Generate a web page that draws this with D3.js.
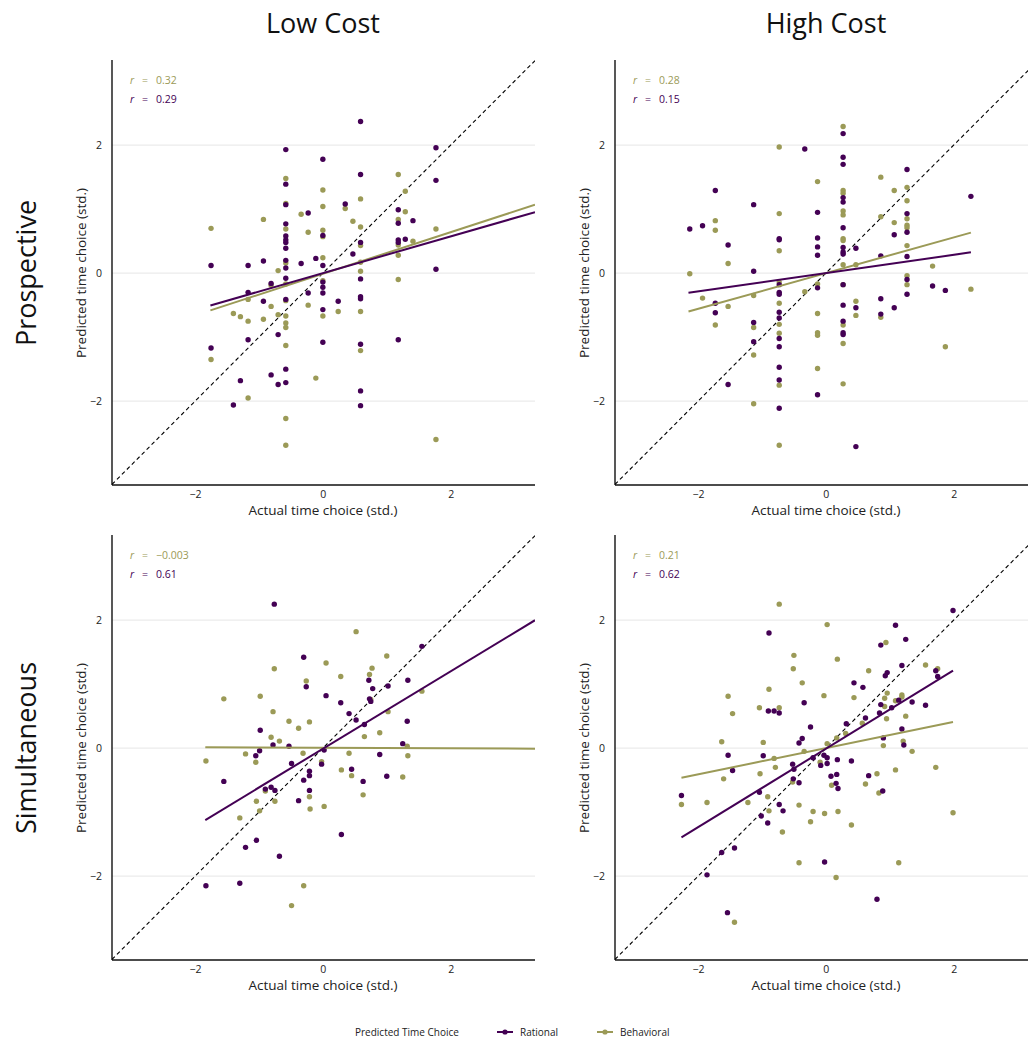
<!DOCTYPE html>
<html><head><meta charset="utf-8">
<script src="https://cdn.jsdelivr.net/npm/d3@7"></script>
<style>body{margin:0;background:#fff}svg{display:block;font-family:"Open Sans",sans-serif}</style>
</head><body><svg id="c" width="1028" height="1038"></svg>
<script>
// ---------- data ----------
const colLabels = ["Low Cost", "High Cost"];
const rowLabels = ["Prospective", "Simultaneous"];
const seriesNames = ["Rational", "Behavioral"];
const ticks = [-2, 0, 2];

const tlRational = [[0.59,2.37],[-0.58,1.93],[1.77,1.96],[0,1.78],[0.59,1.54],[-0.58,1.39],[1.77,1.45],[-0.58,1.07],[0.35,1.08],[-0.23,0.94],[1.18,0.99],[1.41,0.82],[1.18,0.78],[-0.58,0.77],[-0.58,0.58],[-0.58,0.52],[-0.58,0.48],[-0.58,0.39],[0,0.59],[1.29,0.53],[1.18,0.52],[1.18,0.48],[0.59,0.48],[0.47,0.30],[-0.11,0.23],[-0.58,0.20],[-0.58,0.08],[-0.34,0.15],[0,0.12],[-1.75,0.12],[-1.17,0.12],[-0.93,0.19],[1.77,0.06],[-0.58,-0.08],[0.59,-0.09],[0,-0.14],[-0.81,-0.16],[-1.17,-0.30],[0,-0.22],[0,-0.31],[-0.58,-0.41],[-0.23,-0.31],[-0.93,-0.44],[0.24,-0.44],[0.59,-0.37],[0.59,-0.40],[0,-0.57],[-0.70,-0.96],[-1.17,-1.04],[0,-1.08],[0.59,-1.11],[1.18,-1.04],[-1.75,-1.17],[-0.58,-1.50],[-1.29,-1.68],[-0.81,-1.59],[-0.70,-1.74],[-0.58,-1.71],[0.59,-1.84],[-1.40,-2.06],[0.59,-2.07]];
const tlBehavioral = [[-0.58,1.48],[-0.58,1.09],[1.18,1.54],[0,1.30],[0,1.04],[0.59,1.16],[0.35,1.01],[1.29,1.28],[1.29,0.96],[-1.75,0.70],[-0.93,0.84],[-0.34,0.92],[-0.58,0.69],[-0.23,0.64],[0,0.67],[0,0.57],[0.47,0.81],[0.59,0.72],[1.18,0.84],[1.77,0.69],[1.41,0.50],[1.18,0.44],[1.18,0.28],[0.59,0.43],[0.59,0.17],[0.59,0.03],[0,0.24],[-0.58,0.16],[-0.70,0.04],[1.18,-0.10],[-1.17,-0.41],[-0.81,-0.19],[-0.58,-0.17],[-0.58,-0.43],[0,-0.12],[-1.40,-0.63],[-1.29,-0.68],[-1.17,-0.75],[-0.93,-0.72],[-0.81,-0.52],[-0.70,-0.65],[-0.58,-0.67],[-0.58,-0.78],[-0.58,-0.85],[-0.23,-0.50],[0,-0.67],[0.24,-0.60],[0.59,-0.60],[-1.75,-1.35],[-0.58,-1.13],[0.59,-1.21],[-0.11,-1.64],[-1.17,-1.95],[-0.58,-2.27],[-0.58,-2.69],[1.77,-2.60]];

const trRational = [[0.27,2.18],[-0.33,1.94],[0.27,1.81],[0.27,1.70],[1.27,1.62],[-1.73,1.29],[2.27,1.20],[-1.13,1.07],[0.27,1.18],[0.27,1.11],[-0.13,0.95],[1.27,0.93],[-2.13,0.69],[-1.93,0.74],[0.27,0.71],[1.27,0.64],[1.07,0.60],[-1.53,0.44],[-0.73,0.54],[-0.73,0.52],[-0.13,0.55],[-0.13,0.41],[-0.13,0.28],[0.27,0.40],[0.27,0.33],[0.27,0.30],[0.47,0.39],[0.86,0.27],[1.27,0.26],[-1.13,0.03],[1.27,-0.10],[0.27,-0.18],[-0.73,-0.18],[1.67,-0.20],[-0.73,-0.30],[-0.73,-0.33],[-1.73,-0.47],[-1.73,-0.62],[-0.73,-0.61],[-0.73,-0.70],[-1.13,-0.77],[-1.13,-1.07],[-0.73,-1.02],[-0.73,-1.15],[-0.73,-1.47],[-0.73,-1.67],[-1.53,-1.74],[-0.13,-1.90],[-0.73,-2.11],[0.47,-2.71],[-0.13,-0.23],[0.27,-0.50],[0.27,-0.75],[0.27,-0.93],[0.27,-0.96],[0.47,-0.54],[0.86,-0.40],[0.86,-0.64],[1.07,-0.54],[1.27,-0.33],[1.87,-0.27]];
const trBehavioral = [[0.27,2.29],[-0.73,1.97],[-0.13,1.43],[0.86,1.50],[0.27,1.29],[0.27,1.25],[1.27,1.34],[1.07,1.29],[1.27,1.13],[0.27,0.97],[0.27,0.91],[-0.73,0.93],[-1.73,0.82],[-1.73,0.67],[0.86,0.88],[1.07,0.79],[1.27,0.85],[1.27,0.75],[1.27,0.71],[0.27,0.54],[0.27,0.51],[-0.73,0.35],[-1.53,0.15],[1.27,0.43],[0.27,0.13],[0.47,0.13],[1.67,0.11],[-2.13,-0.01],[1.27,-0.04],[-0.13,-0.17],[-0.73,-0.14],[-1.93,-0.39],[-1.53,-0.52],[-1.73,-0.81],[-1.13,-0.35],[-1.13,-0.85],[-1.13,-1.28],[-1.13,-2.04],[-0.73,-0.47],[-0.73,-0.80],[-0.73,-0.94],[-0.73,-1.75],[-0.73,-2.69],[-0.33,-0.29],[-0.13,-0.63],[-0.13,-0.93],[-0.13,-0.97],[-0.13,-1.49],[0.27,-0.18],[0.27,-0.81],[0.27,-1.10],[0.27,-1.73],[0.47,-0.44],[0.47,-0.66],[0.86,-0.69],[1.27,-0.18],[1.87,-1.15],[2.27,-0.25]];

const blRational = [[-0.76,2.25],[-0.30,1.42],[-0.26,0.96],[0.05,0.82],[0.28,0.71],[0.72,1.06],[0.78,0.93],[1.02,0.97],[1.33,1.06],[1.55,1.59],[0.73,0.77],[0.75,0.73],[0.41,0.54],[0.52,0.44],[0.65,0.37],[1.32,0.42],[-0.98,0.28],[-0.78,0.05],[-0.99,-0.04],[-1.05,-0.12],[-0.53,0.03],[0.02,-0.03],[1.25,0.07],[0.89,-0.10],[-0.49,-0.24],[-0.02,-0.25],[-0.21,-0.36],[-0.21,-0.43],[-0.30,-0.50],[0.45,-0.33],[0.63,-0.52],[1.00,-0.44],[-1.55,-0.52],[-0.90,-0.64],[-0.81,-0.61],[-0.75,-0.66],[-0.21,-0.66],[-0.38,-0.82],[0.29,-1.35],[-1.04,-1.44],[-1.21,-1.55],[-0.68,-1.69],[-1.83,-2.15],[-1.30,-2.11]];
const blBehavioral = [[0.52,1.82],[1.00,1.44],[0.05,1.33],[-0.76,1.24],[0.77,1.25],[0.73,1.15],[0.28,1.12],[-0.26,1.05],[-1.55,0.77],[-0.98,0.81],[1.55,0.89],[0.75,0.76],[-0.78,0.57],[1.02,0.57],[-0.53,0.42],[-0.38,0.31],[-0.21,0.41],[-0.81,0.17],[-0.68,0.11],[0.65,0.18],[0.89,0.24],[-1.21,-0.09],[-0.31,-0.08],[0.41,-0.08],[1.32,0.03],[1.33,-0.12],[-1.83,-0.20],[-1.05,-0.22],[-0.02,-0.21],[0.29,-0.34],[0.45,-0.43],[1.25,-0.45],[0.63,-0.73],[-0.90,-0.67],[-0.21,-0.76],[-1.04,-0.83],[-0.75,-0.83],[-0.99,-0.98],[-0.20,-0.95],[0.02,-0.91],[-1.30,-1.09],[-0.30,-2.15],[-0.49,-2.46]];

const brRational = [[1.99,2.15],[1.09,1.92],[-0.89,1.80],[1.25,1.70],[0.86,1.61],[1.19,1.29],[1.72,1.21],[1.75,1.12],[0.96,1.18],[0.93,1.13],[0.44,1.02],[0.58,0.95],[-0.34,0.71],[-0.90,0.58],[-0.81,0.58],[-0.73,0.55],[1.14,0.75],[1.35,0.72],[1.56,0.67],[0.86,0.68],[1.03,0.63],[0.84,0.55],[0.62,0.47],[-0.24,0.33],[0.32,0.38],[1.19,0.30],[0.90,0.16],[1.22,0.05],[-0.37,0.15],[-0.42,0.08],[-0.20,-0.15],[-0.03,-0.11],[0.02,-0.15],[0.18,-0.18],[0.40,-0.20],[-1.53,-0.11],[-0.98,-0.12],[-0.52,-0.25],[-0.08,-0.27],[0.02,-0.24],[-1.46,-0.35],[-0.50,-0.33],[-0.51,-0.48],[-0.42,-0.54],[0.08,-0.44],[0.17,-0.41],[0.16,-0.55],[0.19,-0.63],[0.67,-0.43],[0.89,-0.67],[-2.26,-0.74],[-1.04,-0.69],[-0.73,-0.88],[-0.67,-0.98],[-1.01,-1.06],[-0.91,-1.17],[-1.63,-1.63],[-1.43,-1.56],[-1.86,-1.98],[-0.02,-1.78],[0.80,-2.36],[-1.54,-2.57]];
const brBehavioral = [[-0.73,2.25],[0.02,1.93],[0.94,1.65],[-0.50,1.45],[0.18,1.39],[-0.51,1.24],[1.56,1.30],[1.75,1.24],[0.67,1.21],[-0.37,1.02],[-0.89,0.92],[-1.53,0.81],[-0.03,0.82],[0.44,0.79],[0.96,0.86],[1.19,0.83],[1.19,0.80],[1.09,0.74],[0.92,0.78],[-1.46,0.54],[-1.04,0.63],[-0.73,0.63],[0.92,0.65],[1.25,0.50],[0.95,0.46],[0.57,0.39],[0.31,0.23],[0.17,0.16],[0.02,0.07],[-1.63,0.10],[-0.98,0.09],[1.21,0.11],[0.90,0.04],[1.35,-0.05],[-0.34,-0.05],[-0.81,-0.16],[-0.09,-0.22],[-0.79,-0.30],[-1.03,-0.40],[-1.60,-0.48],[-0.52,-0.53],[0.09,-0.58],[0.62,-0.56],[0.80,-0.40],[1.09,-0.34],[1.72,-0.30],[0.83,-0.70],[-2.26,-0.88],[-1.86,-0.85],[-1.22,-0.85],[-0.91,-0.76],[-0.89,-0.98],[-0.42,-0.89],[-0.20,-0.99],[-0.02,-1.02],[0.19,-0.99],[-0.24,-1.15],[0.40,-1.20],[-0.68,-1.31],[1.99,-1.01],[-0.42,-1.79],[1.14,-1.79],[0.16,-2.02],[-1.43,-2.72]];

// regression fits: [slope, intercept, xStart, xEnd] per panel (TL, TR, BL, BR)
const fitRational   = [[0.287, 0.00, -1.76, 3.32], [0.143, 0.00, -2.15, 2.27], [0.605, -0.01, -1.84, 3.32], [0.613, -0.01, -2.26, 1.99]];
const fitBehavioral = [[0.325, -0.01, -1.76, 3.32], [0.279, 0.00, -2.15, 2.27], [-0.004, 0.005, -1.84, 3.32], [0.205, 0.00, -2.26, 1.99]];
const rRational   = ["0.29", "0.15", "0.61", "0.62"];
const rBehavioral = ["0.32", "0.28", "\u22120.003", "0.21"];

// ---------- drawing ----------
const colors = {Rational: "#440154", Behavioral: "#9b9a57"};
const svg = d3.select("#c");
const W = 423, H = 425;
const lefts = [112, 615], tops = [60, 535];
const xDom = [-3.3, 3.32], yDom = [-3.31, 3.33];

const panels = [
  {r:0,c:0,rat:tlRational,beh:tlBehavioral},
  {r:0,c:1,rat:trRational,beh:trBehavioral},
  {r:1,c:0,rat:blRational,beh:blBehavioral},
  {r:1,c:1,rat:brRational,beh:brBehavioral}
];

panels.forEach((p, i) => {
  const L = lefts[p.c], T = tops[p.r];
  const x = d3.scaleLinear().domain(xDom).range([L, L + W]);
  const y = d3.scaleLinear().domain(yDom).range([T + H, T]);
  const g = svg.append("g");
  const cid = "clip" + i;
  svg.append("clipPath").attr("id", cid).append("rect").attr("x", L).attr("y", T).attr("width", W).attr("height", H);

  // grid
  g.selectAll(".grid").data(ticks).join("line")
    .attr("x1", L).attr("x2", L + W).attr("y1", d => y(d)).attr("y2", d => y(d))
    .attr("stroke", "#ebebeb").attr("stroke-width", 1.1);

  // axes
  const ax = g.append("g").attr("transform", `translate(0,${T + H})`)
    .call(d3.axisBottom(x).tickValues(ticks).tickSize(0).tickPadding(6).tickFormat(d3.format("d")));
  const ay = g.append("g").attr("transform", `translate(${L},0)`)
    .call(d3.axisLeft(y).tickValues(ticks).tickSize(0).tickPadding(10).tickFormat(d3.format("d")));
  [ax, ay].forEach(a => {
    a.select(".domain").remove();
    a.selectAll("text").attr("font-size", 10.5).attr("fill", "#222").attr("font-family", "'Open Sans',sans-serif");
  });
  g.append("line").attr("x1", L).attr("x2", L).attr("y1", T).attr("y2", T + H).attr("stroke", "#111").attr("stroke-width", 1.4);
  g.append("line").attr("x1", L).attr("x2", L + W).attr("y1", T + H).attr("y2", T + H).attr("stroke", "#111").attr("stroke-width", 1.4);

  const plot = g.append("g").attr("clip-path", `url(#${cid})`);
  // identity line
  plot.append("path").datum([xDom[0], xDom[1]])
    .attr("d", d3.line().x(d => x(d)).y(d => y(d)))
    .attr("stroke", "#000").attr("stroke-width", 1.1).attr("stroke-dasharray", "4,3").attr("fill", "none");

  // points
  [["Behavioral", p.beh], ["Rational", p.rat]].forEach(([name, pts]) => {
    plot.append("g").selectAll("circle").data(pts).join("circle")
      .attr("cx", d => x(d[0])).attr("cy", d => y(d[1])).attr("r", 2.7)
      .attr("fill", colors[name]);
  });
  // fits
  [["Behavioral", fitBehavioral[i]], ["Rational", fitRational[i]]].forEach(([name, f]) => {
    const xs = [f[2], f[3]];
    plot.append("path").datum(xs)
      .attr("d", d3.line().x(d => x(d)).y(d => y(f[0] * d + f[1])))
      .attr("stroke", colors[name]).attr("stroke-width", 2).attr("fill", "none");
  });

  // r annotations
  [["Behavioral", rBehavioral[i], 0], ["Rational", rRational[i], 1]].forEach(([name, val, k]) => {
    const t = g.append("text").attr("x", L + 18).attr("y", T + 24 + k * 19)
      .attr("font-size", 10.5).attr("fill", colors[name]);
    t.append("tspan").attr("font-style", "italic").text("r");
    t.append("tspan").attr("x", L + 30).text("=");
    t.append("tspan").attr("x", L + 44).text(val);
  });

  // axis titles
  g.append("text").attr("x", L + 211).attr("y", T + H + 30).attr("text-anchor", "middle")
    .attr("font-size", 13.5).attr("fill", "#222").text("Actual time choice (std.)");
  g.append("text").attr("transform", `translate(${L - 26},${T + 213}) rotate(-90)`).attr("text-anchor", "middle")
    .attr("font-size", 13.5).attr("fill", "#222").text("Predicted time choice (std.)");
});

// strip labels
colLabels.forEach((t, c) => {
  svg.append("text").attr("x", lefts[c] + 211).attr("y", 33).attr("text-anchor", "middle")
    .attr("font-size", 27).attr("fill", "#111").text(t);
});
rowLabels.forEach((t, r) => {
  svg.append("text").attr("transform", `translate(36,${tops[r] + 213}) rotate(-90)`).attr("text-anchor", "middle")
    .attr("font-size", 27).attr("fill", "#111").text(t);
});

// legend
const lg = svg.append("g").attr("font-size", 10).attr("fill", "#222");
lg.append("text").attr("x", 355).attr("y", 1036).text("Predicted Time Choice");
const keyX = [497, 597];
seriesNames.forEach((n, k) => {
  lg.append("line").attr("x1", keyX[k]).attr("x2", keyX[k] + 16).attr("y1", 1032).attr("y2", 1032)
    .attr("stroke", colors[n]).attr("stroke-width", 2);
  lg.append("circle").attr("cx", keyX[k] + 8).attr("cy", 1032).attr("r", 2.6).attr("fill", colors[n]);
  lg.append("text").attr("x", keyX[k] + 23).attr("y", 1036).text(n);
});
</script></body></html>
